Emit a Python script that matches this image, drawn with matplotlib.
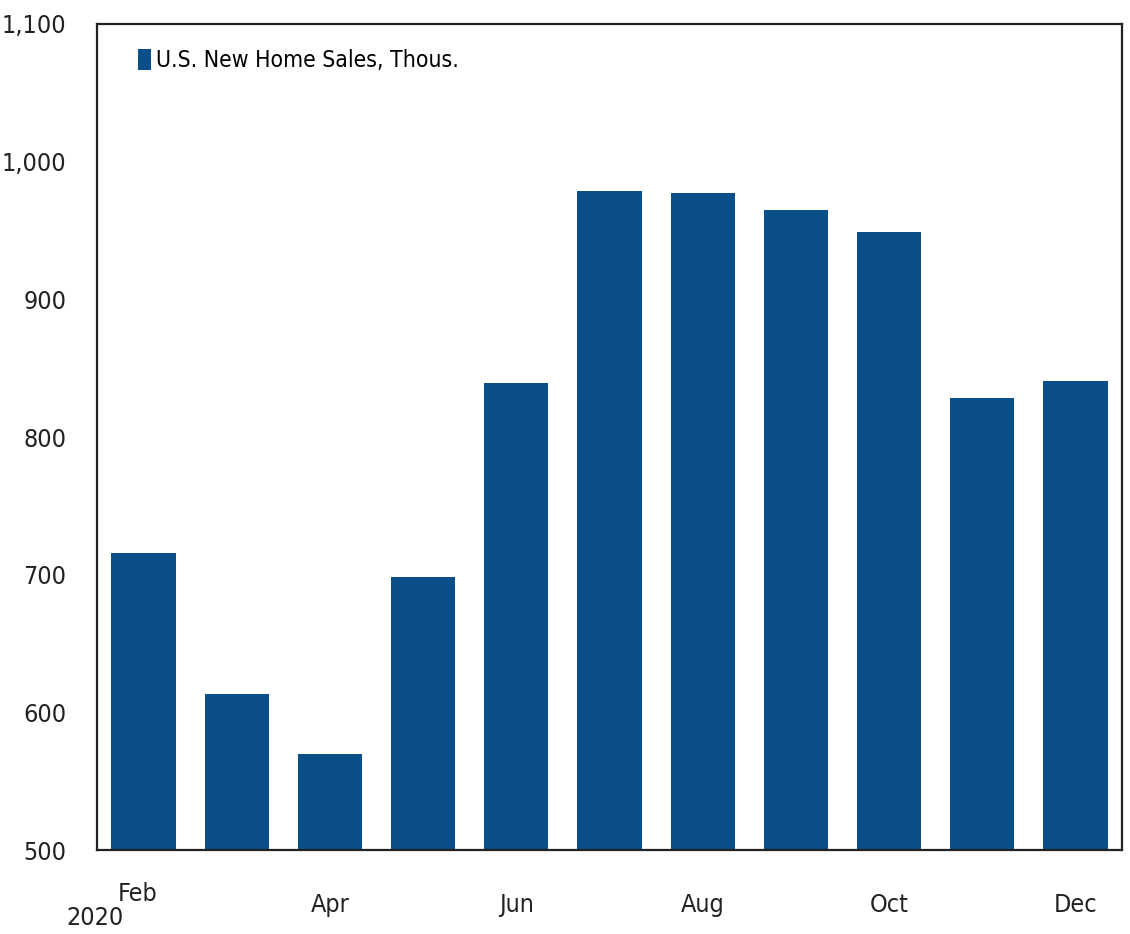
import numpy as np
import matplotlib.pyplot as plt
from matplotlib import font_manager
from matplotlib.transforms import ScaledTranslation

months = ['Feb', 'Mar', 'Apr', 'May', 'Jun', 'Jul', 'Aug', 'Sep', 'Oct', 'Nov', 'Dec']
sales = [716, 613, 570, 698, 839, 979, 977, 965, 949, 828, 841]
shown = ['Feb', 'Apr', 'Jun', 'Aug', 'Oct', 'Dec']
yticks = [500, 600, 700, 800, 900, 1000, 1100]

# look for an upright narrow face, otherwise Liberation Sans
narrow = None
for f in font_manager.fontManager.ttflist:
    if f.style != 'normal' or f.weight not in (400, 'normal', 'regular'):
        continue
    if 'Narrow' in f.name or f.stretch in ('condensed', 'semi-condensed', 'extra-condensed'):
        narrow = f
        break
if narrow is not None:
    fp = font_manager.FontProperties(fname=narrow.fname)
    scale = 1.0
else:
    fp = font_manager.FontProperties(family='Liberation Sans')
    scale = 0.85

col = '#0A4F8A'
tc = '#222222'

fig = plt.figure(figsize=(11.3, 9.34), dpi=100)
ax = fig.add_axes([97/1130, 1 - 850/934, 1025/1130, 826/934])

x = np.arange(len(months))
ax.bar(x, sales, width=0.69, color=col, label='U.S. New Home Sales, Thous.')
ax.set_xlim(-0.5, len(months) - 0.5)
ax.set_ylim(500, 1100)
ax.set_yticks(yticks)
ax.set_yticklabels(['{:,}'.format(v) for v in yticks], fontproperties=fp, fontsize=18*scale, color=tc)
ax.set_xticks(x)
ax.set_xticklabels([m if m in shown else '' for m in months], fontproperties=fp, fontsize=18*scale, color=tc)
ax.tick_params(length=0)
ax.tick_params(axis='y', pad=22)
ax.tick_params(axis='x', pad=31)
for s in ax.spines.values():
    s.set_linewidth(1.6)
    s.set_color(tc)

# first month sits a little higher, like a superscript to the year
feb = ax.get_xticklabels()[0]
feb.set_transform(feb.get_transform() + ScaledTranslation(-4/72, 8/72, fig.dpi_scale_trans))

fig.text(66/1130, 1 - 918/934, '2020', fontproperties=fp, fontsize=18*scale, color=tc, va='center')

lp = fp.copy()
lp.set_size(16.5*scale)
ax.legend(loc='upper left', frameon=False, prop=lp, handlelength=0.55, handleheight=1.0,
          handletextpad=0.2, borderaxespad=0.6, bbox_to_anchor=(0.018, 0.997))

fig.savefig('out.png', dpi=100)
